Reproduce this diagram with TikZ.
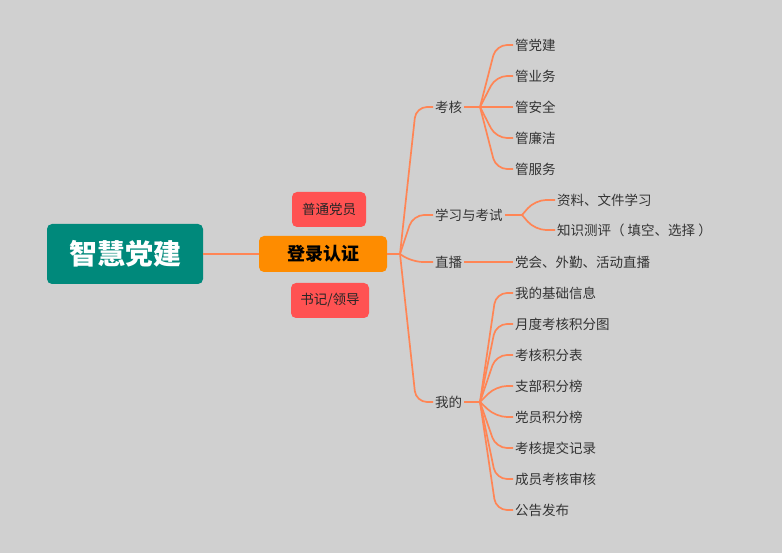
\documentclass[tikz,border=0pt]{standalone}
\usepackage{fontspec}
\setmainfont{Noto Sans CJK SC}
\begin{document}
\begin{tikzpicture}[x=1pt,y=-1pt,
  every node/.style={font=\fontsize{13.5}{16}\selectfont, text=black!80},
  link/.style={draw=lineC, line width=1.7pt, rounded corners=11pt},
  rootbox/.style={fill=rootC, rounded corners=5pt, text=white, font=\fontsize{28}{31}\selectfont\bfseries, minimum width=156pt, minimum height=60pt, inner sep=0pt},
  loginbox/.style={fill=loginC, rounded corners=5pt, text=black, font=\fontsize{18}{21}\selectfont\bfseries, minimum width=128pt, minimum height=36pt, inner sep=0pt},
  rolebox/.style={fill=roleC, rounded corners=5pt, text=black!85, font=\fontsize{13.5}{16}\selectfont, minimum height=35pt, inner sep=0pt},
  branch/.style={anchor=west, inner xsep=2pt, inner ysep=1pt},
  leaf/.style={anchor=west, inner xsep=2pt, inner ysep=1pt}
]
\definecolor{bgC}{RGB}{208,208,208}
\definecolor{lineC}{RGB}{255,133,85}
\definecolor{rootC}{RGB}{0,137,123}
\definecolor{loginC}{RGB}{254,140,0}
\definecolor{roleC}{RGB}{255,82,82}
\fill[bgC] (0,0) rectangle (782,553);
\useasboundingbox (0,0) rectangle (782,553);

\node[rootbox] (root) at (125,254) {智慧党建};
\node[loginbox] (login) at (323,254) {登录认证};
\node[rolebox, minimum width=74pt] (r1) at (329,209.5) {普通党员};
\node[rolebox, minimum width=78pt] (r2) at (330,300.5) {书记/领导};

\draw[link] (root.east) -- (login.west);
\coordinate (hub) at (400,254);
\draw[link] (login.east) -- (hub);

% branches
\node[branch] (kh) at (433,107) {考核};
\node[branch] (xx) at (433,215) {学习与考试};
\node[branch] (zb) at (433,262) {直播};
\node[branch] (wd) at (433,402) {我的};

\draw[link] (hub) -- (416,107) -- (kh.west);
\draw[link] (hub) -- (413,215) -- (xx.west);
\draw[link] (hub) -- (412,262) -- (zb.west);
\draw[link] (hub) -- (416,402) -- (wd.west);

% 考核 children
\coordinate (h1) at (480,107);
\draw[link] (kh.east) -- (h1);
\node[leaf] (k1) at (513,45) {管党建};
\node[leaf] (k2) at (513,76) {管业务};
\node[leaf] (k3) at (513,107) {管安全};
\node[leaf] (k4) at (513,138) {管廉洁};
\node[leaf] (k5) at (513,169) {管服务};
\foreach \n/\yy in {k1/45,k2/76,k4/138,k5/169}
  \draw[link] (h1) -- (496,\yy) -- (\n.west);
\draw[link] (h1) -- (k3.west);

% 学习与考试 children
\coordinate (h2) at (522,215);
\draw[link] (xx.east) -- (h2);
\node[leaf] (x1) at (555,200) {资料、文件学习};
\node[leaf] (x2) at (555,230) {知识测评（ 填空、选择 ）};
\draw[link] (h2) -- (535,200) -- (x1.west);
\draw[link] (h2) -- (535,230) -- (x2.west);

% 直播 child
\node[leaf] (z1) at (513,262) {党会、外勤、活动直播};
\draw[link] (zb.east) -- (z1.west);

% 我的 children
\coordinate (h3) at (480,402);
\draw[link] (wd.east) -- (h3);
\node[leaf] (w1) at (513,293) {我的基础信息};
\node[leaf] (w2) at (513,324) {月度考核积分图};
\node[leaf] (w3) at (513,355) {考核积分表};
\node[leaf] (w4) at (513,386) {支部积分榜};
\node[leaf] (w5) at (513,417) {党员积分榜};
\node[leaf] (w6) at (513,448) {考核提交记录};
\node[leaf] (w7) at (513,479) {成员考核审核};
\node[leaf] (w8) at (513,510) {公告发布};
\foreach \n/\yy in {w1/293,w2/324,w3/355,w4/386,w5/417,w6/448,w7/479,w8/510}
  \draw[link] (h3) -- (496,\yy) -- (\n.west);
\end{tikzpicture}
\end{document}
